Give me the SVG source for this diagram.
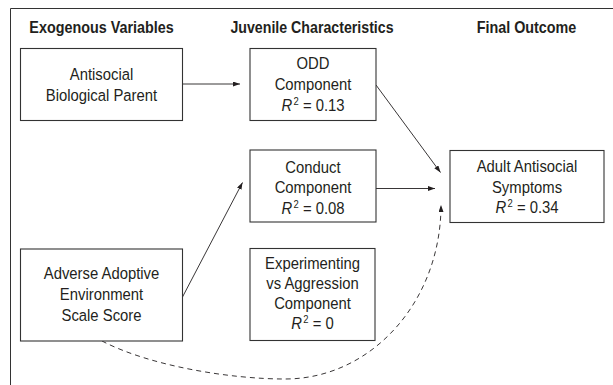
<svg xmlns="http://www.w3.org/2000/svg" width="613" height="385" viewBox="0 0 613 385">
<style>
.frame{fill:none;stroke:#333;stroke-width:1}
.box{fill:#fff;stroke:#333;stroke-width:1.1}
.hd{font-family:"Liberation Sans",Arial,sans-serif;font-weight:bold;font-size:16.5px;fill:#231f20;text-anchor:middle}
.tx{font-family:"Liberation Sans",Arial,sans-serif;font-size:16.5px;fill:#231f20;text-anchor:middle}
.it{font-style:italic}
.sup{font-size:10.5px}
.ln{fill:none;stroke:#231f20;stroke-width:0.9;marker-end:url(#ah)}
.dash{stroke-dasharray:5 4}
</style>
<defs>
<marker id="ah" markerUnits="userSpaceOnUse" markerWidth="8" markerHeight="6" refX="7" refY="2.5" orient="auto">
<path d="M0,0 L7,2.5 L0,5 z" fill="#231f20" stroke="none"/>
</marker>
</defs>
<path class="frame" d="M10.5,385 L10.5,8.5 L613,8.5"/>
<g id="headers">
<text class="hd" transform="translate(101.5,33.3) scale(0.87 1)">Exogenous Variables</text>
<text class="hd" transform="translate(312,33.3) scale(0.86 1)">Juvenile Characteristics</text>
<text class="hd" transform="translate(526.5,33.3) scale(0.87 1)">Final Outcome</text>
</g>
<g id="connectors">
<path class="ln" d="M182.5,84 L240,84"/>
<path class="ln" d="M376,85 L440.5,172.5"/>
<path class="ln" d="M376,188.5 L435,188.5"/>
<path class="ln" d="M182.5,297 L242.5,182.5"/>
<path class="ln dash" d="M102,341 C150,366 230,379 285,379 C371,379 441,302 441,205"/>
</g>
<g id="antisocial-parent">
<rect class="box" x="20.5" y="48.5" width="162" height="72"/>
<g transform="translate(101.5,0) scale(0.9 1)">
<text class="tx" x="0" y="80">Antisocial</text>
<text class="tx" x="0" y="101">Biological Parent</text>
</g>
</g>
<g id="odd">
<rect class="box" x="250" y="48.5" width="126" height="72"/>
<g transform="translate(313,0) scale(0.9 1)">
<text class="tx" x="0" y="69.3">ODD</text>
<text class="tx" x="0" y="90">Component</text>
<text class="tx" x="0" y="110.7"><tspan class="it">R</tspan><tspan class="sup" dx="1.5" dy="-6">2</tspan><tspan dy="6"> = 0.13</tspan></text>
</g>
</g>
<g id="conduct">
<rect class="box" x="250" y="150" width="126" height="72"/>
<g transform="translate(313,0) scale(0.9 1)">
<text class="tx" x="0" y="172.6">Conduct</text>
<text class="tx" x="0" y="193.3">Component</text>
<text class="tx" x="0" y="214"><tspan class="it">R</tspan><tspan class="sup" dx="1.5" dy="-6">2</tspan><tspan dy="6"> = 0.08</tspan></text>
</g>
</g>
<g id="experimenting">
<rect class="box" x="250" y="248.5" width="125" height="92"/>
<g transform="translate(312.5,0) scale(0.9 1)">
<text class="tx" x="0" y="269">Experimenting</text>
<text class="tx" x="0" y="289">vs Aggression</text>
<text class="tx" x="0" y="309">Component</text>
<text class="tx" x="0" y="329.3"><tspan class="it">R</tspan><tspan class="sup" dx="1.5" dy="-6">2</tspan><tspan dy="6"> = 0</tspan></text>
</g>
</g>
<g id="adult">
<rect class="box" x="450" y="150.5" width="154" height="72"/>
<g transform="translate(527,0) scale(0.9 1)">
<text class="tx" x="0" y="172.3">Adult Antisocial</text>
<text class="tx" x="0" y="193.3">Symptoms</text>
<text class="tx" x="0" y="213.3"><tspan class="it">R</tspan><tspan class="sup" dx="1.5" dy="-6">2</tspan><tspan dy="6"> = 0.34</tspan></text>
</g>
</g>
<g id="adverse">
<rect class="box" x="20.5" y="249" width="162" height="92"/>
<g transform="translate(101.5,0) scale(0.9 1)">
<text class="tx" x="0" y="279">Adverse Adoptive</text>
<text class="tx" x="0" y="300">Environment</text>
<text class="tx" x="0" y="321">Scale Score</text>
</g>
</g>
</svg>
